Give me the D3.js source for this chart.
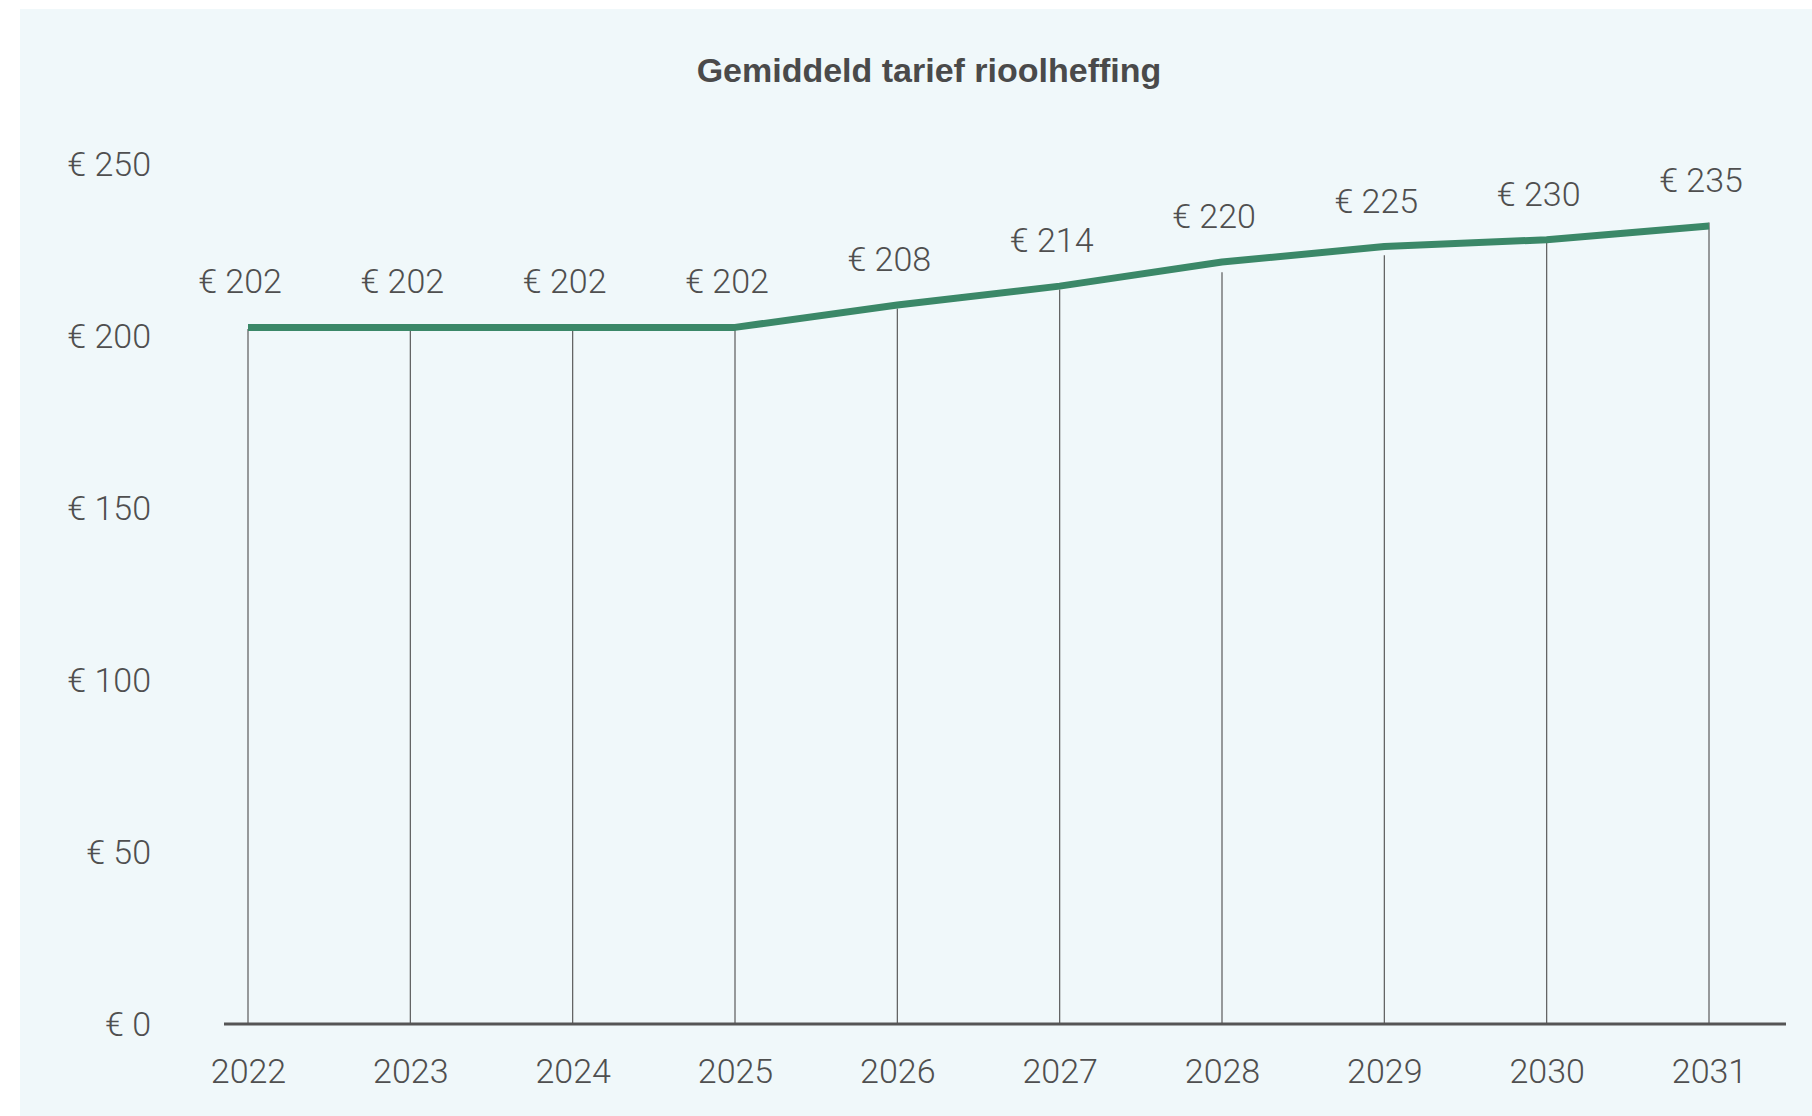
<!DOCTYPE html>
<html>
<head>
<meta charset="utf-8">
<script src="https://cdn.jsdelivr.net/npm/d3@7"></script>
<style>
  html, body { margin: 0; padding: 0; background: #ffffff; }
  svg { display: block; }
</style>
</head>
<body>
<svg id="chart" width="1812" height="1116"></svg>
<script>
// ---- data ----
const title = "Gemiddeld tarief rioolheffing";
const years = ["2022", "2023", "2024", "2025", "2026", "2027", "2028", "2029", "2030", "2031"];
// line values as drawn
const tariffLine = [202.5, 202.5, 202.5, 202.5, 209, 214.5, 221.5, 226, 228, 232];
// heights the thin guide lines reach
const guideValues = [202, 202, 202, 202, 208, 213.5, 218.5, 223.5, 227, 233];
// value labels as printed
const valueLabels = ["€ 202", "€ 202", "€ 202", "€ 202", "€ 208", "€ 214", "€ 220", "€ 225", "€ 230", "€ 235"];
const yTicks = [0, 50, 100, 150, 200, 250];

// ---- layout ----
const W = 1812, H = 1116;
const svg = d3.select("#chart");
const numFont = "Roboto, 'Liberation Sans', sans-serif";
const textColor = "#4f4f4f";
const fs = 34;

svg.append("rect").attr("x", 20).attr("y", 9).attr("width", W - 20).attr("height", H - 9)
  .attr("fill", "#f0f8fa");

const x = d3.scalePoint().domain(years).range([248, 1709]);
const y = d3.scaleLinear().domain([0, 250]).range([1024, 164]);

// title
svg.append("text").attr("x", 929).attr("y", 82).attr("text-anchor", "middle")
  .attr("font-family", "'Liberation Sans', Arial, sans-serif").attr("font-weight", 700).attr("font-size", 34)
  .attr("fill", "#4a4a4a").text(title);

// y axis labels
const yAxis = svg.append("g").attr("transform", "translate(151,0)")
  .call(d3.axisLeft(y).tickValues(yTicks).tickSize(0).tickPadding(0).tickFormat(d => "€ " + d));
yAxis.select(".domain").remove();
yAxis.selectAll("text").attr("font-family", numFont).attr("font-weight", 300)
  .attr("font-size", fs).attr("fill", textColor).attr("dy", "0.33em");

// guide lines
svg.append("g").selectAll("line").data(years).join("line")
  .attr("x1", d => x(d)).attr("x2", d => x(d))
  .attr("y1", (d, i) => y(guideValues[i])).attr("y2", y(0))
  .attr("stroke", "#5a5a5a").attr("stroke-width", 1.2);

// x axis
const xAxis = svg.append("g").attr("transform", `translate(0,${y(0)})`)
  .call(d3.axisBottom(x).tickSize(0).tickPadding(35));
xAxis.select(".domain").remove();
xAxis.selectAll("text").attr("font-family", numFont).attr("font-weight", 300)
  .attr("font-size", fs).attr("fill", textColor);
svg.append("line").attr("x1", 224).attr("x2", 1786).attr("y1", y(0)).attr("y2", y(0))
  .attr("stroke", "#555555").attr("stroke-width", 3);

// line
const line = d3.line().x((d, i) => x(years[i])).y(d => y(d));
svg.append("path").datum(tariffLine).attr("d", line)
  .attr("fill", "none").attr("stroke", "#3b8868").attr("stroke-width", 7)
  .attr("stroke-linejoin", "round");

// value labels
svg.append("g").selectAll("text").data(valueLabels).join("text")
  .attr("x", (d, i) => x(years[i]) - 8)
  .attr("y", (d, i) => y(tariffLine[i]) - 34)
  .attr("text-anchor", "middle")
  .attr("font-family", numFont).attr("font-weight", 300).attr("font-size", fs)
  .attr("fill", textColor).text(d => d);
</script>
</body>
</html>
